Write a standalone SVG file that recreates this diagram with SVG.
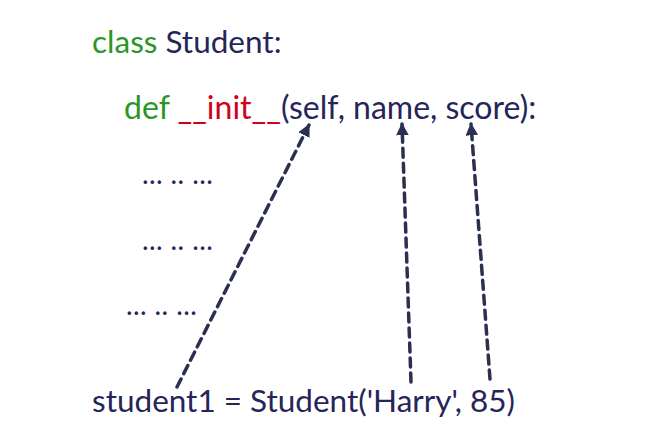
<svg xmlns="http://www.w3.org/2000/svg" width="654" height="441" viewBox="0 0 654 441">
<style>
text{font-family:Lato,"Open Sans",sans-serif;font-size:31.5px;fill:#25255a}
.kw{fill:#2a9628}
.fn{fill:#d0021b}
.big{font-size:32px}
.dots{font-size:28px;letter-spacing:0.4px}
.conn{stroke:#2b3050;stroke-width:3.5;stroke-dasharray:9 6;fill:none;stroke-linecap:round}
</style>
<defs>
<marker id="ah" viewBox="0 0 10 10" refX="9" refY="5" markerWidth="3.6" markerHeight="3.6" orient="auto" markerUnits="strokeWidth">
<path d="M0,0 L10,5 L0,10 z" fill="#2b3050"/>
</marker>
</defs>
<rect width="654" height="441" fill="#ffffff"/>
<g id="class-line"><text x="92" y="53"><tspan class="kw">class</tspan> Student:</text></g>
<g id="init-line"><text class="big" x="124" y="119"><tspan class="kw">def</tspan> <tspan class="fn">__init__</tspan>(self, name, score):</text></g>
<g id="body">
<text class="dots" x="142" y="184">... .. ...</text>
<text class="dots" x="142" y="250">... .. ...</text>
<text class="dots" x="126" y="315">... .. ...</text>
</g>
<g id="call-line"><text x="92" y="412">student1 = Student('Harry', 85)</text></g>
<g id="connectors">
<path class="conn" d="M177,387 L309,125" marker-end="url(#ah)"/>
<path class="conn" d="M411,382 L402,124" marker-end="url(#ah)"/>
<path class="conn" d="M490,379 L471,124" marker-end="url(#ah)"/>
</g>
</svg>
